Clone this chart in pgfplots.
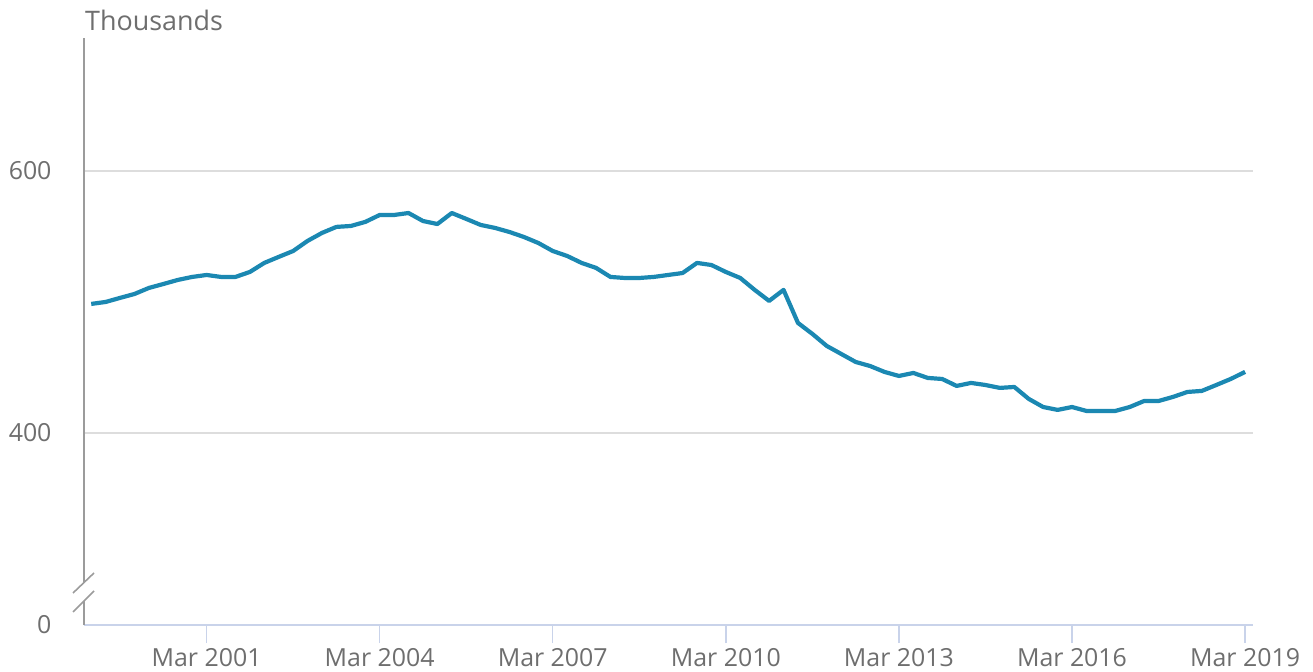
\documentclass[border=0pt]{standalone}
\usepackage{pgfplots}
\pgfplotsset{compat=1.18}
\usepackage{fontspec}
\setmainfont{Open Sans}
\definecolor{lineblue}{HTML}{1B88B2}
\definecolor{txtgrey}{HTML}{6E6E6E}
\definecolor{gridgrey}{HTML}{DDDDDD}
\definecolor{yaxgrey}{HTML}{9B9B9B}
\definecolor{xaxblue}{HTML}{C9D3EA}
\begin{document}
\begin{tikzpicture}
\path[use as bounding box] (0,0) rectangle (1313bp,672bp);
\begin{axis}[
  at={(84bp,47bp)}, anchor=south west,
  scale only axis, width=1169bp, height=587bp,
  xmin=-0.5, xmax=80.55,
  ymin=253.4, ymax=701.5,
  axis x line*=bottom,
  axis y line*=left,
  y axis line style={draw=none},
  x axis line style={draw=xaxblue, line width=1.3bp},
  xtick={8,20,32,44,56,68,80},
  xticklabels={Mar 2001,Mar 2004,Mar 2007,Mar 2010,Mar 2013,Mar 2016,Mar 2019},
  tick align=outside,
  major tick length=18bp,
  x tick style={draw=xaxblue, line width=1.3bp},
  ytick={400,600},
  y tick style={draw=none},
  extra y ticks={253.4},
  extra y tick labels={0},
  extra y tick style={grid=none},
  ymajorgrids,
  grid style={draw=gridgrey, line width=1.1bp},
  tick label style={font=\fontsize{25}{29}\selectfont, text=txtgrey},
  /pgf/number format/assume math mode=true,
  yticklabel style={anchor=east, xshift=-11bp},
  xticklabel style={yshift=-2bp},
  clip=false,
]
\addplot[lineblue, line width=4.2bp, line join=round] coordinates {
(0,498.5)(1,500.0)(2,503.1)(3,506.1)(4,510.7)(5,513.7)(6,516.8)(7,519.1)(8,520.6)(9,519.1)
(10,519.1)(11,522.9)(12,529.8)(13,534.4)(14,538.9)(15,546.6)(16,552.7)(17,557.3)(18,558.0)(19,561.1)
(20,566.4)(21,566.4)(22,567.9)(23,561.8)(24,559.5)(25,567.9)(26,563.4)(27,558.8)(28,556.5)(29,553.4)
(30,549.6)(31,545.0)(32,538.9)(33,535.1)(34,529.8)(35,526.0)(36,519.1)(37,518.3)(38,518.3)(39,519.1)
(40,520.6)(41,522.1)(42,529.8)(43,528.2)(44,522.9)(45,518.3)(46,509.2)(47,500.8)(48,509.2)(49,484.0)
(50,475.6)(51,466.4)(52,460.3)(53,454.2)(54,451.1)(55,446.6)(56,443.5)(57,445.8)(58,442.0)(59,441.2)
(60,435.9)(61,438.2)(62,436.6)(63,434.4)(64,435.1)(65,426.0)(66,419.8)(67,417.6)(68,419.8)(69,416.8)
(70,416.8)(71,416.8)(72,419.8)(73,424.4)(74,424.4)(75,427.5)(76,431.3)(77,432.1)(78,436.6)(79,441.2)
(80,446.6)
};
% y axis line with break
\draw[yaxgrey, line width=1.6bp] ([yshift=42bp]rel axis cs:0,0) -- (rel axis cs:0,1);
\draw[yaxgrey, line width=1.6bp] (rel axis cs:0,0) -- ([yshift=24bp]rel axis cs:0,0);
\draw[yaxgrey, line width=1.6bp] ([shift={(-11bp,32bp)}]rel axis cs:0,0) -- ([shift={(10bp,52bp)}]rel axis cs:0,0);
\draw[yaxgrey, line width=1.6bp] ([shift={(-11bp,13bp)}]rel axis cs:0,0) -- ([shift={(10bp,34bp)}]rel axis cs:0,0);
\node[anchor=base west, inner sep=0pt, text=txtgrey, font=\fontsize{27}{31}\selectfont] at ([shift={(1bp,7bp)}]rel axis cs:0,1) {Thousands};
\end{axis}
\end{tikzpicture}
\end{document}
